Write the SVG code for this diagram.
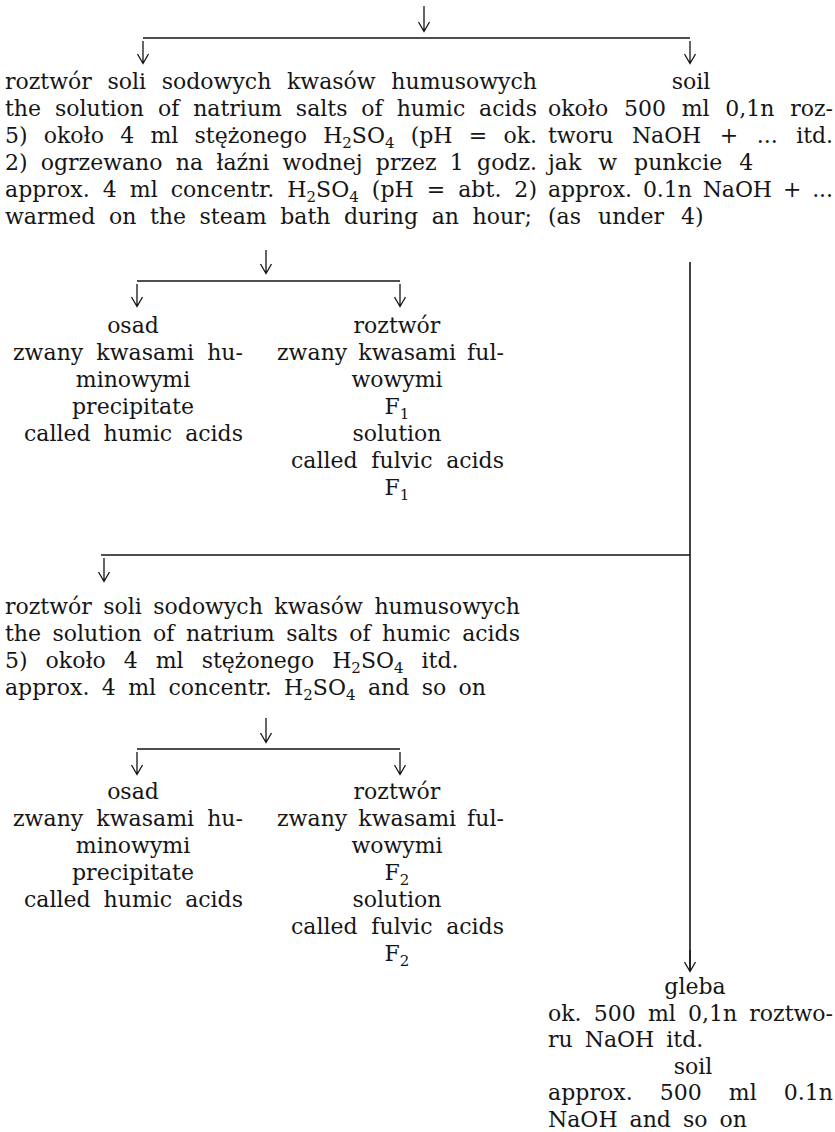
<svg xmlns="http://www.w3.org/2000/svg" width="835" height="1132" viewBox="0 0 835 1132">
<style>
text{font-family:"DejaVu Serif","Liberation Serif",serif;font-size:22px;fill:#151515}
.m{text-anchor:middle}
.s{font-size:15px}
.ln{stroke:#151515;stroke-width:1.6;fill:none}
.ar{stroke:#151515;stroke-width:1.3;fill:none}
</style>
<rect width="835" height="1132" fill="#fff"/>
<g id="connectors">
<path class="ar" d="M424,6V31M418.5,22L424,31.5L429.5,22"/>
<path class="ln" d="M143,38H690"/>
<path class="ar" d="M143,41V63M137.5,54L143,63.5L148.5,54"/>
<path class="ar" d="M690,41V63M684.5,54L690,63.5L695.5,54"/>
<path class="ar" d="M266,250V273M260.5,264L266,273.5L271.5,264"/>
<path class="ln" d="M137,281H400"/>
<path class="ar" d="M137,284V306M131.5,297L137,306.5L142.5,297"/>
<path class="ar" d="M400,284V306M394.5,297L400,306.5L405.5,297"/>
<path class="ln" d="M101,555H690"/>
<path class="ln" d="M690,262V971"/>
<path class="ar" d="M104,558V581M98.5,572L104,581.5L109.5,572"/>
<path class="ar" d="M266,718V742M260.5,733L266,742.5L271.5,733"/>
<path class="ln" d="M137,749H400"/>
<path class="ar" d="M137,752V774M131.5,765L137,774.5L142.5,765"/>
<path class="ar" d="M400,752V774M394.5,765L400,774.5L405.5,765"/>
<path class="ar" d="M690,950V971M684.5,962L690,971.5L695.5,962"/>
</g>
<g id="n-solution1">
<text x="5" y="89" word-spacing="8.7" textLength="532" lengthAdjust="spacing">roztwór soli sodowych kwasów humusowych</text>
<text x="5" y="116" word-spacing="6.9" textLength="532" lengthAdjust="spacing">the solution of natrium salts of humic acids</text>
<text x="5" y="143" word-spacing="9.3" textLength="532" lengthAdjust="spacing">5) około 4 ml stężonego H<tspan class="s" dy="5">2</tspan><tspan dy="-5">SO</tspan><tspan class="s" dy="5">4</tspan><tspan dy="-5"> (pH = ok.</tspan></text>
<text x="5" y="170" word-spacing="6.3" textLength="532" lengthAdjust="spacing">2) ogrzewano na łaźni wodnej przez 1 godz.</text>
<text x="5" y="197" word-spacing="5.9" textLength="532" lengthAdjust="spacing">approx. 4 ml concentr. H<tspan class="s" dy="5">2</tspan><tspan dy="-5">SO</tspan><tspan class="s" dy="5">4</tspan><tspan dy="-5"> (pH = abt. 2)</tspan></text>
<text x="5" y="224" word-spacing="6.6" textLength="527" lengthAdjust="spacing">warmed on the steam bath during an hour;</text>
</g>
<g id="n-soil1">
<text class="m" x="691" y="89">soil</text>
<text x="548" y="116" word-spacing="8.8" textLength="285" lengthAdjust="spacing">około 500 ml 0,1n roz-</text>
<text x="548" y="143" word-spacing="11.7" textLength="285" lengthAdjust="spacing">tworu NaOH + ... itd.</text>
<text x="548" y="170" word-spacing="10">jak w punkcie 4</text>
<text x="548" y="197" word-spacing="4" textLength="285" lengthAdjust="spacing">approx. 0.1n NaOH + ...</text>
<text x="548" y="224" word-spacing="10">(as under 4)</text>
</g>
<g id="n-osad1">
<text class="m" x="133" y="333">osad</text>
<text x="13" y="360" word-spacing="6" textLength="230" lengthAdjust="spacing">zwany kwasami hu-</text>
<text class="m" x="133" y="387">minowymi</text>
<text class="m" x="133" y="414">precipitate</text>
<text x="24" y="441" word-spacing="6" textLength="219" lengthAdjust="spacing">called humic acids</text>
</g>
<g id="n-roztwor1">
<text class="m" x="397" y="333">roztwór</text>
<text x="277" y="360" word-spacing="4" textLength="227" lengthAdjust="spacing">zwany kwasami ful-</text>
<text class="m" x="397" y="387">wowymi</text>
<text class="m" x="397" y="414">F<tspan class="s" dy="5">1</tspan></text>
<text class="m" x="397" y="441">solution</text>
<text x="291" y="468" word-spacing="6.7" textLength="213" lengthAdjust="spacing">called fulvic acids</text>
<text class="m" x="397" y="495">F<tspan class="s" dy="5">1</tspan></text>
</g>
<g id="n-solution2">
<text x="5" y="614" word-spacing="4.5" textLength="515" lengthAdjust="spacing">roztwór soli sodowych kwasów humusowych</text>
<text x="5" y="641" word-spacing="4.5" textLength="515" lengthAdjust="spacing">the solution of natrium salts of humic acids</text>
<text x="5" y="668" word-spacing="11">5) około 4 ml stężonego H<tspan class="s" dy="5">2</tspan><tspan dy="-5">SO</tspan><tspan class="s" dy="5">4</tspan><tspan dy="-5"> itd.</tspan></text>
<text x="5" y="695" word-spacing="5.4">approx. 4 ml concentr. H<tspan class="s" dy="5">2</tspan><tspan dy="-5">SO</tspan><tspan class="s" dy="5">4</tspan><tspan dy="-5"> and so on</tspan></text>
</g>
<g id="n-osad2">
<text class="m" x="133" y="799">osad</text>
<text x="13" y="826" word-spacing="6" textLength="230" lengthAdjust="spacing">zwany kwasami hu-</text>
<text class="m" x="133" y="853">minowymi</text>
<text class="m" x="133" y="880">precipitate</text>
<text x="24" y="907" word-spacing="6" textLength="219" lengthAdjust="spacing">called humic acids</text>
</g>
<g id="n-roztwor2">
<text class="m" x="397" y="799">roztwór</text>
<text x="277" y="826" word-spacing="4" textLength="227" lengthAdjust="spacing">zwany kwasami ful-</text>
<text class="m" x="397" y="853">wowymi</text>
<text class="m" x="397" y="880">F<tspan class="s" dy="5">2</tspan></text>
<text class="m" x="397" y="907">solution</text>
<text x="291" y="934" word-spacing="6.7" textLength="213" lengthAdjust="spacing">called fulvic acids</text>
<text class="m" x="397" y="961">F<tspan class="s" dy="5">2</tspan></text>
</g>
<g id="n-gleba">
<text class="m" x="695" y="994">gleba</text>
<text x="548" y="1020.5" word-spacing="5.2" textLength="285" lengthAdjust="spacing">ok. 500 ml 0,1n roztwo-</text>
<text x="548" y="1047" word-spacing="5">ru NaOH itd.</text>
<text class="m" x="693" y="1073.5">soil</text>
<text x="548" y="1100" word-spacing="20" textLength="285" lengthAdjust="spacing">approx. 500 ml 0.1n</text>
<text x="548" y="1126.5" word-spacing="5">NaOH and so on</text>
</g>
</svg>
